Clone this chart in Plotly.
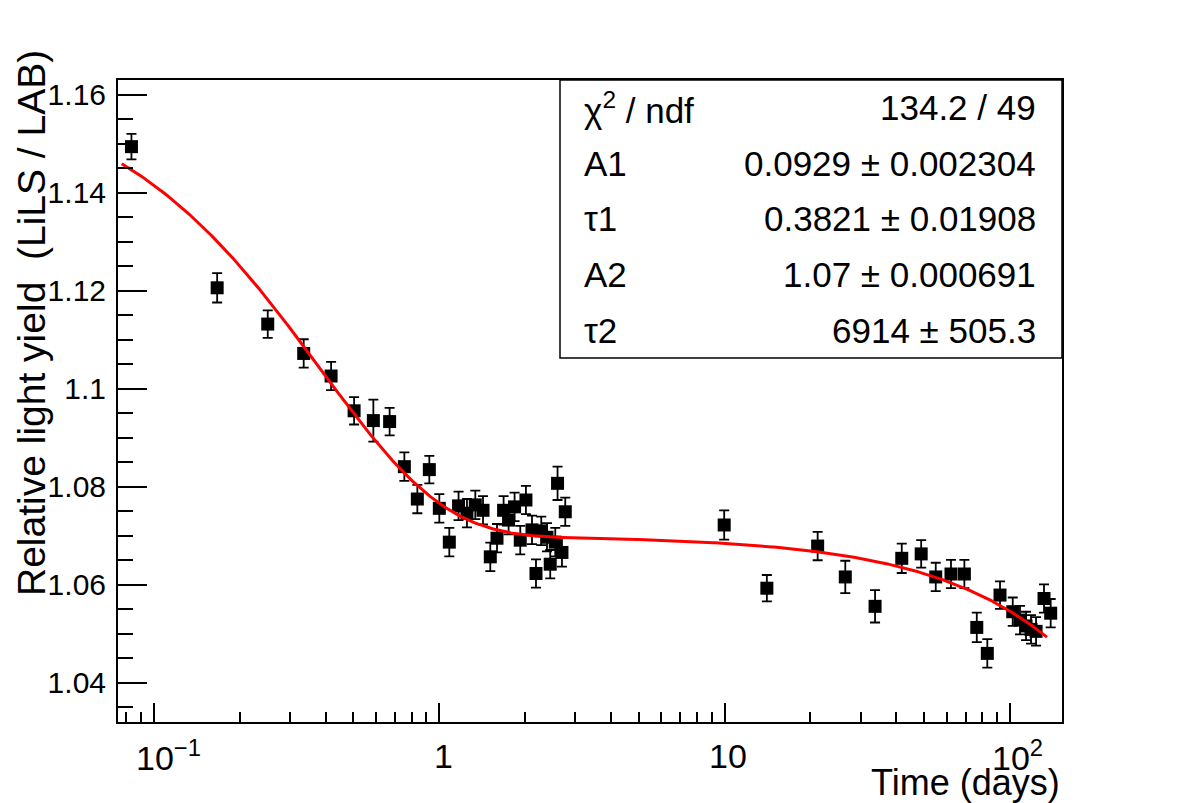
import numpy as np
import plotly.graph_objects as go

# ---- data ----
time_days = [0.0833, 0.1664, 0.2503, 0.3346, 0.4174, 0.5026, 0.5871, 0.6695, 0.7541, 0.8374, 0.9225, 1.000, 1.084,
             1.168, 1.250, 1.337, 1.423, 1.509, 1.593, 1.680, 1.749, 1.836, 1.922, 2.012, 2.113, 2.182, 2.277,
             2.385, 2.448, 2.550, 2.597, 2.691, 2.764,
             9.97, 14.07, 21.2, 26.5, 33.7,
             41.8, 48.9, 55.0, 62.2, 69.3, 76.6, 83.4, 92.4, 102.4, 108.6, 114.0, 118.7, 123.6, 131.8, 139.1]
light_yield = [1.1494, 1.1206, 1.1132, 1.1072, 1.1026, 1.0955, 1.0935, 1.0933, 1.0841, 1.0775, 1.0835, 1.0756, 1.0687,
               1.0761, 1.0746, 1.0763, 1.0752, 1.0657, 1.0695, 1.0752, 1.0732, 1.0759, 1.0691, 1.0773, 1.0712, 1.0623,
               1.0710, 1.0697, 1.0642, 1.0687, 1.0807, 1.0666, 1.0749,
               1.0722, 1.0593, 1.0679, 1.0616, 1.0556,
               1.0654, 1.0663, 1.0616, 1.0622, 1.0622, 1.0513, 1.0460, 1.0579, 1.0545, 1.0528, 1.0516, 1.0509,
               1.0505, 1.0572, 1.0542]
yield_err = [0.0026, 0.0030, 0.0028, 0.0029, 0.0029, 0.0028, 0.0043, 0.0028, 0.0029, 0.0029, 0.0028, 0.0029, 0.0029,
             0.0029, 0.0029, 0.0029, 0.0029, 0.0029, 0.0029, 0.0029, 0.0029, 0.0029, 0.0029, 0.0029, 0.0029, 0.0029,
             0.0029, 0.0029, 0.0029, 0.0029, 0.0034, 0.0029, 0.0029,
             0.0030, 0.0027, 0.0029, 0.0033, 0.0033,
             0.0030, 0.0028, 0.0029, 0.0029, 0.0029, 0.0030, 0.0029, 0.0028, 0.0029, 0.0029, 0.0029, 0.0029,
             0.0029, 0.0029, 0.0029]

# fit parameters shown in the stats box
fit_names = ["A1", "τ1", "A2", "τ2"]
fit_values = [0.0929, 0.3821, 1.07, 6914]
fit_errors = ["0.002304", "0.01908", "0.000691", "505.3"]
fit_value_text = ["0.0929", "0.3821", "1.07", "6914"]
chi2_text = "134.2 / 49"
fit_range = [0.077, 135]

x_tickvals = [0.1, 1, 10, 100]
x_ticktext = ["10<sup>−1</sup>", "1", "10", "10<sup>2</sup>"]
y_tickvals = [1.04, 1.06, 1.08, 1.10, 1.12, 1.14, 1.16]
y_ticktext = ["1.04", "1.06", "1.08", "1.1", "1.12", "1.14", "1.16"]

A1, T1, A2, T2 = fit_values
tfit = np.logspace(np.log10(fit_range[0]), np.log10(fit_range[1]), 500)
yfit = A1 * np.exp(-tfit / T1) + A2 * np.exp(-tfit / T2)

FONT = "Liberation Sans, Arial, Helvetica, sans-serif"
W, H = 1182, 803
ML, MR, MT, MB = 118, 120, 80, 81
PW, PH = W - ML - MR, H - MT - MB
XR = [-1.1265, 2.183]
YR = [1.0320, 1.1630]


def px_x(x):
    return (x - ML) / PW


def px_y(y):
    return (H - MB - y) / PH


fig = go.Figure()
fig.add_trace(go.Scatter(
    x=time_days, y=light_yield, mode="markers",
    marker=dict(symbol="square", size=13, color="black", line=dict(width=0)),
    error_y=dict(type="data", array=yield_err, color="black", thickness=1.8, width=5),
    showlegend=False, hoverinfo="x+y"))
fig.add_trace(go.Scatter(
    x=tfit, y=yfit, mode="lines", line=dict(color="#ff0000", width=3),
    showlegend=False, hoverinfo="skip"))

x_minor = [m * 10.0 ** e for e in (-2, -1, 0, 1, 2) for m in range(2, 10)]
y_minor = [round(v, 3) for v in np.arange(1.030, 1.1651, 0.005)]

fig.update_xaxes(
    type="log", range=XR,
    showline=True, linecolor="black", linewidth=2, mirror=True,
    showgrid=False, zeroline=False,
    ticks="inside", ticklen=19, tickwidth=1.5, tickcolor="black",
    tickvals=x_tickvals, showticklabels=False,
    minor=dict(ticks="inside", ticklen=10, tickwidth=1.5, tickcolor="black",
               tickvals=x_minor, showgrid=False),
)
fig.update_yaxes(
    range=YR,
    showline=True, linecolor="black", linewidth=2, mirror=True,
    showgrid=False, zeroline=False,
    ticks="inside", ticklen=29, tickwidth=1.5, tickcolor="black",
    tickvals=y_tickvals, ticktext=y_ticktext,
    tickfont=dict(family=FONT, size=30, color="black"),
    ticklabelstandoff=4,
    minor=dict(ticks="inside", ticklen=15, tickwidth=1.5, tickcolor="black",
               tickvals=y_minor, showgrid=False),
)

# x tick labels (ROOT-like placement: exponent labels sit slightly right of the tick)
label_shift_px = [14, 4, 3, 8]
for v, txt, dx in zip(x_tickvals, x_ticktext, label_shift_px):
    xpix = ML + PW * (np.log10(v) - XR[0]) / (XR[1] - XR[0]) + dx
    fig.add_annotation(xref="paper", yref="paper", x=px_x(xpix), y=px_y(756),
                       xanchor="center", yanchor="middle", text=txt, showarrow=False,
                       font=dict(family=FONT, size=34, color="black"))

# stats box
box_left, box_bottom = 560, 358
fig.add_shape(type="rect", xref="paper", yref="paper",
              x0=px_x(box_left), x1=1, y0=px_y(box_bottom), y1=1,
              fillcolor="white", line=dict(color="black", width=1.5), layer="above")

row_h = (box_bottom - MT) / 5
labels = ["χ<sup>2</sup> / ndf"] + fit_names
values = [chi2_text] + [f"{v} ± {e}" for v, e in zip(fit_value_text, fit_errors)]
SF = 35
for i, (lab, val) in enumerate(zip(labels, values)):
    yc = MT + row_h * (i + 0.5)
    fig.add_annotation(xref="paper", yref="paper", x=px_x(582), y=px_y(yc),
                       xanchor="left", yanchor="middle", text=lab, showarrow=False,
                       font=dict(family=FONT, size=SF, color="black"))
    fig.add_annotation(xref="paper", yref="paper", x=px_x(1038), y=px_y(yc),
                       xanchor="right", yanchor="middle", text=val, showarrow=False,
                       font=dict(family=FONT, size=SF, color="black"))

# axis titles
fig.add_annotation(xref="paper", yref="paper", x=px_x(1062), y=px_y(782),
                   xanchor="right", yanchor="middle", text="Time (days)", showarrow=False,
                   font=dict(family=FONT, size=36, color="black"))
fig.add_annotation(xref="paper", yref="paper", x=px_x(31), y=px_y(323),
                   xanchor="center", yanchor="middle", text="Relative light yield  (LiLS / LAB)",
                   textangle=-90, showarrow=False,
                   font=dict(family=FONT, size=39, color="black"))

fig.update_layout(
    width=W, height=H, autosize=False,
    margin=dict(l=ML, r=MR, t=MT, b=MB, pad=0),
    paper_bgcolor="white", plot_bgcolor="white",
    showlegend=False,
)

fig.write_html("out.html")
